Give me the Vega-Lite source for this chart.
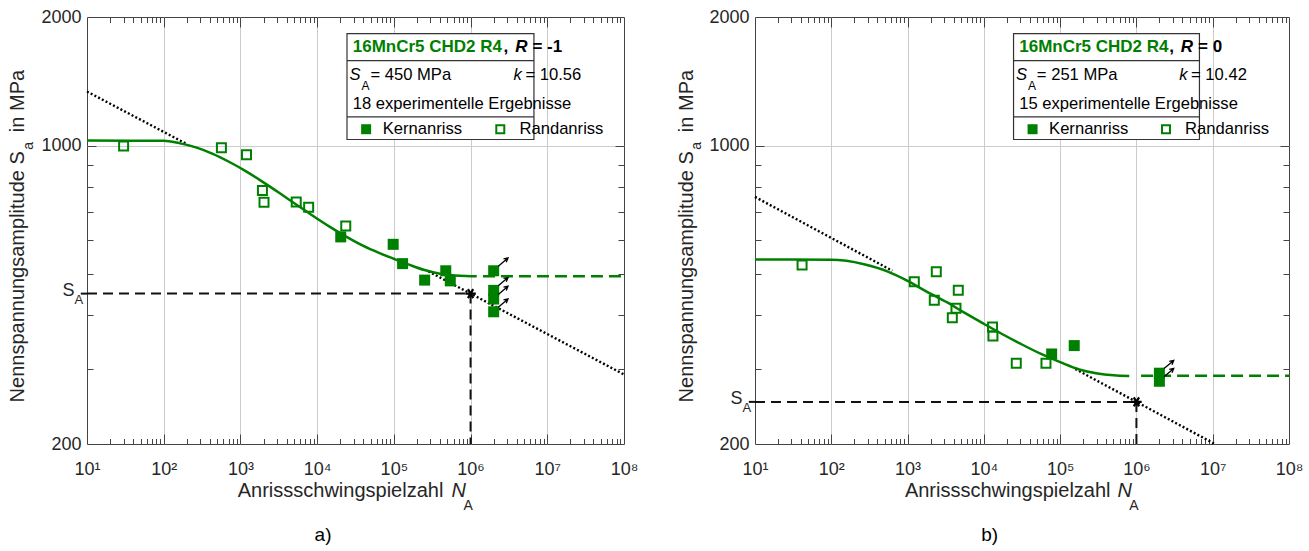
{
"$schema": "https://vega.github.io/schema/vega-lite/v6.json",
"background": "white",
"padding": {"left": 7, "top": 7, "right": 5, "bottom": 5},
"config": {"font": "Liberation Sans", "view": {"stroke": "#444", "strokeWidth": 1}, "title": {"font": "Liberation Sans"}},
"spacing": 131,
"bounds": "flush",
"datasets": {
"ptsA": [
{"N": 30, "S": 998, "Typ": "Randanriss", "Durchlaeufer": false},
{"N": 565, "S": 988, "Typ": "Randanriss", "Durchlaeufer": false},
{"N": 1200, "S": 952, "Typ": "Randanriss", "Durchlaeufer": false},
{"N": 1935, "S": 785, "Typ": "Randanriss", "Durchlaeufer": false},
{"N": 2030, "S": 737, "Typ": "Randanriss", "Durchlaeufer": false},
{"N": 5340, "S": 738, "Typ": "Randanriss", "Durchlaeufer": false},
{"N": 7750, "S": 717, "Typ": "Randanriss", "Durchlaeufer": false},
{"N": 23600, "S": 648, "Typ": "Randanriss", "Durchlaeufer": false},
{"N": 20300, "S": 611, "Typ": "Kernanriss", "Durchlaeufer": false},
{"N": 98000, "S": 587, "Typ": "Kernanriss", "Durchlaeufer": false},
{"N": 130000, "S": 529, "Typ": "Kernanriss", "Durchlaeufer": false},
{"N": 252000, "S": 484, "Typ": "Kernanriss", "Durchlaeufer": false},
{"N": 475000, "S": 509, "Typ": "Kernanriss", "Durchlaeufer": false},
{"N": 544000, "S": 482, "Typ": "Kernanriss", "Durchlaeufer": false},
{"N": 2000000, "S": 509, "Typ": "Kernanriss", "Durchlaeufer": true},
{"N": 2000000, "S": 458, "Typ": "Kernanriss", "Durchlaeufer": true},
{"N": 2000000, "S": 437, "Typ": "Kernanriss", "Durchlaeufer": true},
{"N": 2000000, "S": 408, "Typ": "Kernanriss", "Durchlaeufer": true}
],
"ptsB": [
{"N": 41.4, "S": 525, "Typ": "Randanriss", "Durchlaeufer": false},
{"N": 1225, "S": 480, "Typ": "Randanriss", "Durchlaeufer": false},
{"N": 2380, "S": 506, "Typ": "Randanriss", "Durchlaeufer": false},
{"N": 2240, "S": 434, "Typ": "Randanriss", "Durchlaeufer": false},
{"N": 4620, "S": 458, "Typ": "Randanriss", "Durchlaeufer": false},
{"N": 4310, "S": 416, "Typ": "Randanriss", "Durchlaeufer": false},
{"N": 3860, "S": 395, "Typ": "Randanriss", "Durchlaeufer": false},
{"N": 13000, "S": 376, "Typ": "Randanriss", "Durchlaeufer": false},
{"N": 13150, "S": 358, "Typ": "Randanriss", "Durchlaeufer": false},
{"N": 26600, "S": 309, "Typ": "Randanriss", "Durchlaeufer": false},
{"N": 65200, "S": 309, "Typ": "Randanriss", "Durchlaeufer": false},
{"N": 77400, "S": 325, "Typ": "Kernanriss", "Durchlaeufer": false},
{"N": 153000, "S": 340, "Typ": "Kernanriss", "Durchlaeufer": false},
{"N": 2000000, "S": 293, "Typ": "Kernanriss", "Durchlaeufer": true},
{"N": 2000000, "S": 280.5, "Typ": "Kernanriss", "Durchlaeufer": true}
],
"kurveA": [
{"N": 10, "S": 1027}, {"N": 100, "S": 1026}, {"N": 158.5, "S": 1013},
{"N": 263, "S": 990}, {"N": 436.5, "S": 956}, {"N": 719, "S": 915}, {"N": 1186, "S": 870},
{"N": 1950, "S": 822}, {"N": 3228, "S": 774}, {"N": 5321, "S": 728}, {"N": 8770, "S": 685},
{"N": 14488, "S": 646}, {"N": 23878, "S": 612}, {"N": 39445, "S": 583}, {"N": 65013, "S": 560},
{"N": 100000, "S": 543}, {"N": 158489, "S": 526}, {"N": 251189, "S": 511}, {"N": 398107, "S": 501},
{"N": 630957, "S": 496}, {"N": 1000000, "S": 494.5}, {"N": 1202264, "S": 494}
],
"kurveB": [
{"N": 10, "S": 541}, {"N": 100, "S": 540.5}, {"N": 158, "S": 537}, {"N": 269, "S": 527},
{"N": 562, "S": 506}, {"N": 1000, "S": 482}, {"N": 1780, "S": 455}, {"N": 3360, "S": 428.5},
{"N": 5620, "S": 405.5}, {"N": 10100, "S": 382}, {"N": 17800, "S": 361}, {"N": 30600, "S": 343},
{"N": 56200, "S": 325}, {"N": 102000, "S": 310.5}, {"N": 178000, "S": 299}, {"N": 309000, "S": 292.6},
{"N": 500000, "S": 289.8}, {"N": 805000, "S": 288.6}
],
"refA": [
{"art": "strich", "N": 10, "N2": 1000000, "S": 450, "S2": 450},
{"art": "strich", "N": 1000000, "N2": 1000000, "S": 450, "S2": 200},
{"art": "basquin", "N": 10, "N2": 200, "S": 1338, "S2": 1008},
{"art": "basquin", "N": 282000, "N2": 100000000, "S": 507.4, "S2": 291},
{"art": "dauer", "N": 1450000, "N2": 100000000, "S": 494, "S2": 494}
],
"refB": [
{"art": "strich", "N": 10, "N2": 1000000, "S": 251, "S2": 251},
{"art": "strich", "N": 1000000, "N2": 1000000, "S": 251, "S2": 200},
{"art": "basquin", "N": 10, "N2": 631, "S": 758, "S2": 509},
{"art": "basquin", "N": 158000, "N2": 10670000, "S": 299.6, "S2": 200},
{"art": "dauer", "N": 1150000, "N2": 100000000, "S": 289, "S2": 289}
]
},
"hconcat": [
{
"width": 537, "height": 427,
"title": {"text": "a)", "orient": "bottom", "anchor": "middle", "frame": "bounds", "fontSize": 19, "fontWeight": "normal", "color": "#000", "offset": 13},
"resolve": {"axis": {"x": "independent", "y": "independent"}},
"layer": [
{"data": {"values": [{"N": 10, "S": 200}]}, "mark": {"type": "point", "opacity": 0}, "encoding": {
"x": {"field": "N", "type": "quantitative", "scale": {"type": "log", "domain": [10, 100000000], "nice": false}, "axis": {"orient": "bottom", "values": [10, 100, 1000, 10000, 100000, 1000000, 10000000, 100000000], "labelExpr": "'10' + ['⁰','¹','²','³','⁴','⁵','⁶','⁷','⁸'][round(log(datum.value)/LN10)]", "ticks": false, "domain": false, "grid": true, "gridColor": "#cccccc", "gridWidth": 1, "gridOpacity": {"condition": {"test": "datum.value > 11 && datum.value < 90000000", "value": 1}, "value": 0}, "labelFont": "Liberation Sans", "labelFontSize": 18, "labelColor": "#262626", "labelPadding": 16, "labelOverlap": false, "labelFlush": false, "labelBound": false, "title": null}},
"y": {"field": "S", "type": "quantitative", "scale": {"type": "log", "domain": [200, 2000], "nice": false}, "axis": {"orient": "left", "values": [200, 1000, 2000], "format": "d", "ticks": false, "domain": false, "grid": true, "gridColor": "#cccccc", "gridOpacity": {"condition": {"test": "datum.value == 1000", "value": 1}, "value": 0}, "labelFont": "Liberation Sans", "labelFontSize": 18, "labelColor": "#262626", "labelPadding": 6, "labelOverlap": false, "labelFlush": false, "title": null}}}},
{"data": {"values": [{"N": 10, "S": 200}]}, "mark": {"type": "point", "opacity": 0}, "encoding": {
"x": {"field": "N", "type": "quantitative", "axis": {"orient": "bottom", "values": [100, 1000, 10000, 100000, 1000000, 10000000], "labels": false, "domain": false, "grid": false, "ticks": true, "tickColor": "#444", "tickWidth": 1, "tickSize": 10, "offset": -10, "title": null}},
"y": {"field": "S", "type": "quantitative", "axis": {"orient": "left", "values": [1000], "labels": false, "domain": false, "grid": false, "ticks": true, "tickColor": "#444", "tickWidth": 1, "tickSize": 9, "offset": -9, "title": null}}}},
{"data": {"values": [{"N": 10, "S": 200}]}, "mark": {"type": "point", "opacity": 0}, "encoding": {
"x": {"field": "N", "type": "quantitative", "axis": {"orient": "bottom", "values": [20,30,40,50,60,70,80,90,200,300,400,500,600,700,800,900,2000,3000,4000,5000,6000,7000,8000,9000,20000,30000,40000,50000,60000,70000,80000,90000,200000,300000,400000,500000,600000,700000,800000,900000,2000000,3000000,4000000,5000000,6000000,7000000,8000000,9000000,20000000,30000000,40000000,50000000,60000000,70000000,80000000,90000000], "labels": false, "domain": false, "grid": false, "ticks": true, "tickColor": "#444", "tickWidth": 1, "tickSize": 5.5, "offset": -5.5, "title": null}},
"y": {"field": "S", "type": "quantitative", "axis": {"orient": "left", "values": [300,400,500,600,700,800,900], "labels": false, "domain": false, "grid": false, "ticks": true, "tickColor": "#444", "tickWidth": 1, "tickSize": 6, "offset": -6, "title": null}}}},
{"data": {"values": [{"N": 10, "S": 200}]}, "mark": {"type": "point", "opacity": 0}, "encoding": {
"x": {"field": "N", "type": "quantitative", "axis": {"orient": "top", "values": [100, 1000, 10000, 100000, 1000000, 10000000], "labels": false, "domain": false, "grid": false, "ticks": true, "tickColor": "#444", "tickWidth": 1, "tickSize": 10, "offset": -10, "title": null}},
"y": {"field": "S", "type": "quantitative", "axis": {"orient": "right", "values": [1000], "labels": false, "domain": false, "grid": false, "ticks": true, "tickColor": "#444", "tickWidth": 1, "tickSize": 9, "offset": -9, "title": null}}}},
{"data": {"values": [{"N": 10, "S": 200}]}, "mark": {"type": "point", "opacity": 0}, "encoding": {
"x": {"field": "N", "type": "quantitative", "axis": {"orient": "top", "values": [20,30,40,50,60,70,80,90,200,300,400,500,600,700,800,900,2000,3000,4000,5000,6000,7000,8000,9000,20000,30000,40000,50000,60000,70000,80000,90000,200000,300000,400000,500000,600000,700000,800000,900000,2000000,3000000,4000000,5000000,6000000,7000000,8000000,9000000,20000000,30000000,40000000,50000000,60000000,70000000,80000000,90000000], "labels": false, "domain": false, "grid": false, "ticks": true, "tickColor": "#444", "tickWidth": 1, "tickSize": 5.5, "offset": -5.5, "title": null}},
"y": {"field": "S", "type": "quantitative", "axis": {"orient": "right", "values": [300,400,500,600,700,800,900], "labels": false, "domain": false, "grid": false, "ticks": true, "tickColor": "#444", "tickWidth": 1, "tickSize": 6, "offset": -6, "title": null}}}},
{"data": {"name": "refA"}, "transform": [{"filter": "datum.art == 'basquin'"}], "mark": {"type": "rule", "color": "#000", "strokeWidth": 2.4, "strokeDash": [2, 2.2]}, "encoding": {"x": {"field": "N", "type": "quantitative", "axis": null}, "x2": {"field": "N2"}, "y": {"field": "S", "type": "quantitative", "axis": null}, "y2": {"field": "S2"}}},
{"data": {"name": "refA"}, "transform": [{"filter": "datum.art == 'strich'"}], "mark": {"type": "rule", "color": "#111", "strokeWidth": 2, "strokeDash": [10, 6]}, "encoding": {"x": {"field": "N", "type": "quantitative", "axis": null}, "x2": {"field": "N2"}, "y": {"field": "S", "type": "quantitative", "axis": null}, "y2": {"field": "S2"}}},
{"data": {"name": "refA"}, "transform": [{"filter": "datum.art == 'dauer'"}], "mark": {"type": "rule", "color": "#008000", "strokeWidth": 2.5, "strokeDash": [12, 6]}, "encoding": {"x": {"field": "N", "type": "quantitative", "axis": null}, "x2": {"field": "N2"}, "y": {"field": "S", "type": "quantitative", "axis": null}, "y2": {"field": "S2"}}},
{"data": {"name": "kurveA"}, "mark": {"type": "line", "color": "#008000", "strokeWidth": 2.5, "interpolate": "monotone"}, "encoding": {"x": {"field": "N", "type": "quantitative", "axis": null}, "y": {"field": "S", "type": "quantitative", "axis": null}}},
{"data": {"values": [{}]}, "mark": {"type": "rule", "color": "#111", "strokeWidth": 2}, "encoding": {"x": {"datum": 8.3, "type": "quantitative", "axis": null}, "x2": {"datum": 10}, "y": {"datum": 450, "type": "quantitative", "axis": null}}},
{"data": {"values": [{}]}, "mark": {"type": "point", "shape": "M-1,0L1,0M-0.5,-0.866L0.5,0.866M-0.5,0.866L0.5,-0.866", "size": 110, "filled": false, "color": "#000", "strokeWidth": 2.2, "opacity": 1}, "encoding": {"x": {"datum": 1000000, "type": "quantitative", "axis": null}, "y": {"datum": 450, "type": "quantitative", "axis": null}}},
{"data": {"name": "ptsA"}, "transform": [{"filter": "datum.Typ == 'Randanriss'"}], "mark": {"type": "point", "shape": "square", "size": 81, "filled": false, "color": "#008000", "strokeWidth": 2, "opacity": 1}, "encoding": {"x": {"field": "N", "type": "quantitative", "axis": null}, "y": {"field": "S", "type": "quantitative", "axis": null}}},
{"data": {"name": "ptsA"}, "transform": [{"filter": "datum.Typ == 'Kernanriss'"}], "mark": {"type": "point", "shape": "square", "size": 121, "filled": true, "color": "#008000", "opacity": 1}, "encoding": {"x": {"field": "N", "type": "quantitative", "axis": null}, "y": {"field": "S", "type": "quantitative", "axis": null}}},
{"data": {"name": "ptsA"}, "transform": [{"filter": "datum.Durchlaeufer"}], "mark": {"type": "point", "shape": "M0.45,-0.45L1.4,-1.25M0.96,-1.16L1.4,-1.25L1.23,-0.83", "size": 420, "filled": false, "color": "#000", "strokeWidth": 1.3, "opacity": 1}, "encoding": {"x": {"field": "N", "type": "quantitative", "axis": null}, "y": {"field": "S", "type": "quantitative", "axis": null}}},
{"data": {"values": [{}]}, "mark": {"type": "rect", "fill": "#ffffff", "stroke": "#333", "strokeWidth": 1.2}, "encoding": {"x": {"datum": 24500, "type": "quantitative", "axis": null}, "x2": {"datum": 6700000}, "y": {"datum": 1033, "type": "quantitative", "axis": null}, "y2": {"datum": 1828}}},
{"data": {"values": [{}]}, "mark": {"type": "rule", "color": "#333", "strokeWidth": 1.2}, "encoding": {"x": {"datum": 24500, "type": "quantitative", "axis": null}, "x2": {"datum": 6700000}, "y": {"datum": 1581, "type": "quantitative", "axis": null}}},
{"data": {"values": [{}]}, "mark": {"type": "rule", "color": "#333", "strokeWidth": 1.2}, "encoding": {"x": {"datum": 24500, "type": "quantitative", "axis": null}, "x2": {"datum": 6700000}, "y": {"datum": 1167, "type": "quantitative", "axis": null}}},
{"data": {"values": [{}]}, "mark": {"type": "text", "align": "left", "baseline": "middle", "fontSize": 17, "fontWeight": "bold", "color": "#008000"}, "encoding": {"x": {"datum": 29100, "type": "quantitative", "axis": null}, "y": {"datum": 1700, "type": "quantitative", "axis": null}, "text": {"value": "16MnCr5 CHD2 R4"}}},
{"data": {"values": [{}]}, "mark": {"type": "text", "align": "left", "baseline": "middle", "fontSize": 17, "fontWeight": "bold", "color": "#000"}, "encoding": {"x": {"datum": 2690000, "type": "quantitative", "axis": null}, "y": {"datum": 1700, "type": "quantitative", "axis": null}, "text": {"value": ","}}},
{"data": {"values": [{}]}, "mark": {"type": "text", "align": "left", "baseline": "middle", "fontSize": 17, "fontWeight": "bold", "fontStyle": "italic", "color": "#000"}, "encoding": {"x": {"datum": 3810000, "type": "quantitative", "axis": null}, "y": {"datum": 1700, "type": "quantitative", "axis": null}, "text": {"value": "R"}}},
{"data": {"values": [{}]}, "mark": {"type": "text", "align": "left", "baseline": "middle", "fontSize": 17, "fontWeight": "bold", "color": "#000"}, "encoding": {"x": {"datum": 6410000, "type": "quantitative", "axis": null}, "y": {"datum": 1700, "type": "quantitative", "axis": null}, "text": {"value": "= -1"}}},
{"data": {"values": [{}]}, "mark": {"type": "text", "align": "left", "baseline": "middle", "fontSize": 16.6, "fontStyle": "italic", "color": "#000"}, "encoding": {"x": {"datum": 26400, "type": "quantitative", "axis": null}, "y": {"datum": 1461, "type": "quantitative", "axis": null}, "text": {"value": "S"}}},
{"data": {"values": [{}]}, "mark": {"type": "text", "align": "left", "baseline": "middle", "fontSize": 12, "color": "#000"}, "encoding": {"x": {"datum": 37800, "type": "quantitative", "axis": null}, "y": {"datum": 1380, "type": "quantitative", "axis": null}, "text": {"value": "A"}}},
{"data": {"values": [{}]}, "mark": {"type": "text", "align": "left", "baseline": "middle", "fontSize": 16.6, "color": "#000"}, "encoding": {"x": {"datum": 49500, "type": "quantitative", "axis": null}, "y": {"datum": 1461, "type": "quantitative", "axis": null}, "text": {"value": "= 450 MPa"}}},
{"data": {"values": [{}]}, "mark": {"type": "text", "align": "left", "baseline": "middle", "fontSize": 16.6, "fontStyle": "italic", "color": "#000"}, "encoding": {"x": {"datum": 3630000, "type": "quantitative", "axis": null}, "y": {"datum": 1461, "type": "quantitative", "axis": null}, "text": {"value": "k"}}},
{"data": {"values": [{}]}, "mark": {"type": "text", "align": "left", "baseline": "middle", "fontSize": 16.6, "color": "#000"}, "encoding": {"x": {"datum": 5200000, "type": "quantitative", "axis": null}, "y": {"datum": 1461, "type": "quantitative", "axis": null}, "text": {"value": "= 10.56"}}},
{"data": {"values": [{}]}, "mark": {"type": "text", "align": "left", "baseline": "middle", "fontSize": 16.6, "color": "#000"}, "encoding": {"x": {"datum": 29100, "type": "quantitative", "axis": null}, "y": {"datum": 1252, "type": "quantitative", "axis": null}, "text": {"value": "18 experimentelle Ergebnisse"}}},
{"data": {"values": [{}]}, "mark": {"type": "point", "shape": "square", "size": 100, "filled": true, "color": "#008000", "opacity": 1}, "encoding": {"x": {"datum": 43500, "type": "quantitative", "axis": null}, "y": {"datum": 1092, "type": "quantitative", "axis": null}}},
{"data": {"values": [{}]}, "mark": {"type": "point", "shape": "square", "size": 64, "filled": false, "color": "#008000", "strokeWidth": 2, "opacity": 1}, "encoding": {"x": {"datum": 2440000, "type": "quantitative", "axis": null}, "y": {"datum": 1092, "type": "quantitative", "axis": null}}},
{"data": {"values": [{}]}, "mark": {"type": "text", "align": "left", "baseline": "middle", "fontSize": 16.6, "color": "#000"}, "encoding": {"x": {"datum": 71600, "type": "quantitative", "axis": null}, "y": {"datum": 1092, "type": "quantitative", "axis": null}, "text": {"value": "Kernanriss"}}},
{"data": {"values": [{}]}, "mark": {"type": "text", "align": "left", "baseline": "middle", "fontSize": 16.6, "color": "#000"}, "encoding": {"x": {"datum": 4340000, "type": "quantitative", "axis": null}, "y": {"datum": 1092, "type": "quantitative", "axis": null}, "text": {"value": "Randanriss"}}},
{"data": {"values": [{}]}, "mark": {"type": "text", "align": "left", "baseline": "alphabetic", "fontSize": 20, "color": "#262626"}, "encoding": {"x": {"datum": 922, "type": "quantitative", "axis": null}, "y": {"datum": 150.4, "type": "quantitative", "axis": null}, "text": {"value": "Anrissschwingspielzahl"}}},
{"data": {"values": [{}]}, "mark": {"type": "text", "align": "left", "baseline": "alphabetic", "fontSize": 20, "fontStyle": "italic", "color": "#262626"}, "encoding": {"x": {"datum": 563600, "type": "quantitative", "axis": null}, "y": {"datum": 150.4, "type": "quantitative", "axis": null}, "text": {"value": "N"}}},
{"data": {"values": [{}]}, "mark": {"type": "text", "align": "left", "baseline": "alphabetic", "fontSize": 14, "color": "#262626"}, "encoding": {"x": {"datum": 807000, "type": "quantitative", "axis": null}, "y": {"datum": 140.3, "type": "quantitative", "axis": null}, "text": {"value": "A"}}},
{"data": {"values": [{}]}, "mark": {"type": "text", "align": "right", "baseline": "alphabetic", "angle": 270, "fontSize": 20, "color": "#262626"}, "encoding": {"x": {"datum": 1.524, "type": "quantitative", "axis": null}, "y": {"datum": 970.3, "type": "quantitative", "axis": null}, "text": {"value": "Nennspannungsamplitude S"}}},
{"data": {"values": [{}]}, "mark": {"type": "text", "align": "left", "baseline": "alphabetic", "angle": 270, "fontSize": 14, "color": "#262626"}, "encoding": {"x": {"datum": 1.968, "type": "quantitative", "axis": null}, "y": {"datum": 978, "type": "quantitative", "axis": null}, "text": {"value": "a"}}},
{"data": {"values": [{}]}, "mark": {"type": "text", "align": "left", "baseline": "alphabetic", "angle": 270, "fontSize": 20, "color": "#262626"}, "encoding": {"x": {"datum": 1.524, "type": "quantitative", "axis": null}, "y": {"datum": 1075, "type": "quantitative", "axis": null}, "text": {"value": "in MPa"}}},
{"data": {"values": [{}]}, "mark": {"type": "text", "align": "right", "baseline": "middle", "fontSize": 18, "color": "#262626"}, "encoding": {"x": {"datum": 6.85, "type": "quantitative", "axis": null}, "y": {"datum": 456, "type": "quantitative", "axis": null}, "text": {"value": "S"}}},
{"data": {"values": [{}]}, "mark": {"type": "text", "align": "left", "baseline": "middle", "fontSize": 13, "color": "#262626"}, "encoding": {"x": {"datum": 6.85, "type": "quantitative", "axis": null}, "y": {"datum": 435.6, "type": "quantitative", "axis": null}, "text": {"value": "A"}}}
]
},
{
"width": 534, "height": 427,
"title": {"text": "b)", "orient": "bottom", "anchor": "middle", "frame": "bounds", "fontSize": 19, "fontWeight": "normal", "color": "#000", "offset": 13},
"resolve": {"axis": {"x": "independent", "y": "independent"}},
"layer": [
{"data": {"values": [{"N": 10, "S": 200}]}, "mark": {"type": "point", "opacity": 0}, "encoding": {
"x": {"field": "N", "type": "quantitative", "scale": {"type": "log", "domain": [10, 100000000], "nice": false}, "axis": {"orient": "bottom", "values": [10, 100, 1000, 10000, 100000, 1000000, 10000000, 100000000], "labelExpr": "'10' + ['⁰','¹','²','³','⁴','⁵','⁶','⁷','⁸'][round(log(datum.value)/LN10)]", "ticks": false, "domain": false, "grid": true, "gridColor": "#cccccc", "gridWidth": 1, "gridOpacity": {"condition": {"test": "datum.value > 11 && datum.value < 90000000", "value": 1}, "value": 0}, "labelFont": "Liberation Sans", "labelFontSize": 18, "labelColor": "#262626", "labelPadding": 16, "labelOverlap": false, "labelFlush": false, "labelBound": false, "title": null}},
"y": {"field": "S", "type": "quantitative", "scale": {"type": "log", "domain": [200, 2000], "nice": false}, "axis": {"orient": "left", "values": [200, 1000, 2000], "format": "d", "ticks": false, "domain": false, "grid": true, "gridColor": "#cccccc", "gridOpacity": {"condition": {"test": "datum.value == 1000", "value": 1}, "value": 0}, "labelFont": "Liberation Sans", "labelFontSize": 18, "labelColor": "#262626", "labelPadding": 6, "labelOverlap": false, "labelFlush": false, "title": null}}}},
{"data": {"values": [{"N": 10, "S": 200}]}, "mark": {"type": "point", "opacity": 0}, "encoding": {
"x": {"field": "N", "type": "quantitative", "axis": {"orient": "bottom", "values": [100, 1000, 10000, 100000, 1000000, 10000000], "labels": false, "domain": false, "grid": false, "ticks": true, "tickColor": "#444", "tickWidth": 1, "tickSize": 10, "offset": -10, "title": null}},
"y": {"field": "S", "type": "quantitative", "axis": {"orient": "left", "values": [1000], "labels": false, "domain": false, "grid": false, "ticks": true, "tickColor": "#444", "tickWidth": 1, "tickSize": 9, "offset": -9, "title": null}}}},
{"data": {"values": [{"N": 10, "S": 200}]}, "mark": {"type": "point", "opacity": 0}, "encoding": {
"x": {"field": "N", "type": "quantitative", "axis": {"orient": "bottom", "values": [20,30,40,50,60,70,80,90,200,300,400,500,600,700,800,900,2000,3000,4000,5000,6000,7000,8000,9000,20000,30000,40000,50000,60000,70000,80000,90000,200000,300000,400000,500000,600000,700000,800000,900000,2000000,3000000,4000000,5000000,6000000,7000000,8000000,9000000,20000000,30000000,40000000,50000000,60000000,70000000,80000000,90000000], "labels": false, "domain": false, "grid": false, "ticks": true, "tickColor": "#444", "tickWidth": 1, "tickSize": 5.5, "offset": -5.5, "title": null}},
"y": {"field": "S", "type": "quantitative", "axis": {"orient": "left", "values": [300,400,500,600,700,800,900], "labels": false, "domain": false, "grid": false, "ticks": true, "tickColor": "#444", "tickWidth": 1, "tickSize": 6, "offset": -6, "title": null}}}},
{"data": {"values": [{"N": 10, "S": 200}]}, "mark": {"type": "point", "opacity": 0}, "encoding": {
"x": {"field": "N", "type": "quantitative", "axis": {"orient": "top", "values": [100, 1000, 10000, 100000, 1000000, 10000000], "labels": false, "domain": false, "grid": false, "ticks": true, "tickColor": "#444", "tickWidth": 1, "tickSize": 10, "offset": -10, "title": null}},
"y": {"field": "S", "type": "quantitative", "axis": {"orient": "right", "values": [1000], "labels": false, "domain": false, "grid": false, "ticks": true, "tickColor": "#444", "tickWidth": 1, "tickSize": 9, "offset": -9, "title": null}}}},
{"data": {"values": [{"N": 10, "S": 200}]}, "mark": {"type": "point", "opacity": 0}, "encoding": {
"x": {"field": "N", "type": "quantitative", "axis": {"orient": "top", "values": [20,30,40,50,60,70,80,90,200,300,400,500,600,700,800,900,2000,3000,4000,5000,6000,7000,8000,9000,20000,30000,40000,50000,60000,70000,80000,90000,200000,300000,400000,500000,600000,700000,800000,900000,2000000,3000000,4000000,5000000,6000000,7000000,8000000,9000000,20000000,30000000,40000000,50000000,60000000,70000000,80000000,90000000], "labels": false, "domain": false, "grid": false, "ticks": true, "tickColor": "#444", "tickWidth": 1, "tickSize": 5.5, "offset": -5.5, "title": null}},
"y": {"field": "S", "type": "quantitative", "axis": {"orient": "right", "values": [300,400,500,600,700,800,900], "labels": false, "domain": false, "grid": false, "ticks": true, "tickColor": "#444", "tickWidth": 1, "tickSize": 6, "offset": -6, "title": null}}}},
{"data": {"name": "refB"}, "transform": [{"filter": "datum.art == 'basquin'"}], "mark": {"type": "rule", "color": "#000", "strokeWidth": 2.4, "strokeDash": [2, 2.2]}, "encoding": {"x": {"field": "N", "type": "quantitative", "axis": null}, "x2": {"field": "N2"}, "y": {"field": "S", "type": "quantitative", "axis": null}, "y2": {"field": "S2"}}},
{"data": {"name": "refB"}, "transform": [{"filter": "datum.art == 'strich'"}], "mark": {"type": "rule", "color": "#111", "strokeWidth": 2, "strokeDash": [10, 6]}, "encoding": {"x": {"field": "N", "type": "quantitative", "axis": null}, "x2": {"field": "N2"}, "y": {"field": "S", "type": "quantitative", "axis": null}, "y2": {"field": "S2"}}},
{"data": {"name": "refB"}, "transform": [{"filter": "datum.art == 'dauer'"}], "mark": {"type": "rule", "color": "#008000", "strokeWidth": 2.5, "strokeDash": [12, 6]}, "encoding": {"x": {"field": "N", "type": "quantitative", "axis": null}, "x2": {"field": "N2"}, "y": {"field": "S", "type": "quantitative", "axis": null}, "y2": {"field": "S2"}}},
{"data": {"name": "kurveB"}, "mark": {"type": "line", "color": "#008000", "strokeWidth": 2.5, "interpolate": "monotone"}, "encoding": {"x": {"field": "N", "type": "quantitative", "axis": null}, "y": {"field": "S", "type": "quantitative", "axis": null}}},
{"data": {"values": [{}]}, "mark": {"type": "rule", "color": "#111", "strokeWidth": 2}, "encoding": {"x": {"datum": 8.3, "type": "quantitative", "axis": null}, "x2": {"datum": 10}, "y": {"datum": 251, "type": "quantitative", "axis": null}}},
{"data": {"values": [{}]}, "mark": {"type": "point", "shape": "M-1,0L1,0M-0.5,-0.866L0.5,0.866M-0.5,0.866L0.5,-0.866", "size": 110, "filled": false, "color": "#000", "strokeWidth": 2.2, "opacity": 1}, "encoding": {"x": {"datum": 1000000, "type": "quantitative", "axis": null}, "y": {"datum": 251, "type": "quantitative", "axis": null}}},
{"data": {"name": "ptsB"}, "transform": [{"filter": "datum.Typ == 'Randanriss'"}], "mark": {"type": "point", "shape": "square", "size": 81, "filled": false, "color": "#008000", "strokeWidth": 2, "opacity": 1}, "encoding": {"x": {"field": "N", "type": "quantitative", "axis": null}, "y": {"field": "S", "type": "quantitative", "axis": null}}},
{"data": {"name": "ptsB"}, "transform": [{"filter": "datum.Typ == 'Kernanriss'"}], "mark": {"type": "point", "shape": "square", "size": 121, "filled": true, "color": "#008000", "opacity": 1}, "encoding": {"x": {"field": "N", "type": "quantitative", "axis": null}, "y": {"field": "S", "type": "quantitative", "axis": null}}},
{"data": {"name": "ptsB"}, "transform": [{"filter": "datum.Durchlaeufer"}], "mark": {"type": "point", "shape": "M0.45,-0.45L1.4,-1.25M0.96,-1.16L1.4,-1.25L1.23,-0.83", "size": 420, "filled": false, "color": "#000", "strokeWidth": 1.3, "opacity": 1}, "encoding": {"x": {"field": "N", "type": "quantitative", "axis": null}, "y": {"field": "S", "type": "quantitative", "axis": null}}},
{"data": {"values": [{}]}, "mark": {"type": "rect", "fill": "#ffffff", "stroke": "#333", "strokeWidth": 1.2}, "encoding": {"x": {"datum": 24500, "type": "quantitative", "axis": null}, "x2": {"datum": 6700000}, "y": {"datum": 1033, "type": "quantitative", "axis": null}, "y2": {"datum": 1828}}},
{"data": {"values": [{}]}, "mark": {"type": "rule", "color": "#333", "strokeWidth": 1.2}, "encoding": {"x": {"datum": 24500, "type": "quantitative", "axis": null}, "x2": {"datum": 6700000}, "y": {"datum": 1581, "type": "quantitative", "axis": null}}},
{"data": {"values": [{}]}, "mark": {"type": "rule", "color": "#333", "strokeWidth": 1.2}, "encoding": {"x": {"datum": 24500, "type": "quantitative", "axis": null}, "x2": {"datum": 6700000}, "y": {"datum": 1167, "type": "quantitative", "axis": null}}},
{"data": {"values": [{}]}, "mark": {"type": "text", "align": "left", "baseline": "middle", "fontSize": 17, "fontWeight": "bold", "color": "#008000"}, "encoding": {"x": {"datum": 29100, "type": "quantitative", "axis": null}, "y": {"datum": 1700, "type": "quantitative", "axis": null}, "text": {"value": "16MnCr5 CHD2 R4"}}},
{"data": {"values": [{}]}, "mark": {"type": "text", "align": "left", "baseline": "middle", "fontSize": 17, "fontWeight": "bold", "color": "#000"}, "encoding": {"x": {"datum": 2690000, "type": "quantitative", "axis": null}, "y": {"datum": 1700, "type": "quantitative", "axis": null}, "text": {"value": ","}}},
{"data": {"values": [{}]}, "mark": {"type": "text", "align": "left", "baseline": "middle", "fontSize": 17, "fontWeight": "bold", "fontStyle": "italic", "color": "#000"}, "encoding": {"x": {"datum": 3810000, "type": "quantitative", "axis": null}, "y": {"datum": 1700, "type": "quantitative", "axis": null}, "text": {"value": "R"}}},
{"data": {"values": [{}]}, "mark": {"type": "text", "align": "left", "baseline": "middle", "fontSize": 17, "fontWeight": "bold", "color": "#000"}, "encoding": {"x": {"datum": 6410000, "type": "quantitative", "axis": null}, "y": {"datum": 1700, "type": "quantitative", "axis": null}, "text": {"value": "= 0"}}},
{"data": {"values": [{}]}, "mark": {"type": "text", "align": "left", "baseline": "middle", "fontSize": 16.6, "fontStyle": "italic", "color": "#000"}, "encoding": {"x": {"datum": 26400, "type": "quantitative", "axis": null}, "y": {"datum": 1461, "type": "quantitative", "axis": null}, "text": {"value": "S"}}},
{"data": {"values": [{}]}, "mark": {"type": "text", "align": "left", "baseline": "middle", "fontSize": 12, "color": "#000"}, "encoding": {"x": {"datum": 37800, "type": "quantitative", "axis": null}, "y": {"datum": 1380, "type": "quantitative", "axis": null}, "text": {"value": "A"}}},
{"data": {"values": [{}]}, "mark": {"type": "text", "align": "left", "baseline": "middle", "fontSize": 16.6, "color": "#000"}, "encoding": {"x": {"datum": 49500, "type": "quantitative", "axis": null}, "y": {"datum": 1461, "type": "quantitative", "axis": null}, "text": {"value": "= 251 MPa"}}},
{"data": {"values": [{}]}, "mark": {"type": "text", "align": "left", "baseline": "middle", "fontSize": 16.6, "fontStyle": "italic", "color": "#000"}, "encoding": {"x": {"datum": 3630000, "type": "quantitative", "axis": null}, "y": {"datum": 1461, "type": "quantitative", "axis": null}, "text": {"value": "k"}}},
{"data": {"values": [{}]}, "mark": {"type": "text", "align": "left", "baseline": "middle", "fontSize": 16.6, "color": "#000"}, "encoding": {"x": {"datum": 5200000, "type": "quantitative", "axis": null}, "y": {"datum": 1461, "type": "quantitative", "axis": null}, "text": {"value": "= 10.42"}}},
{"data": {"values": [{}]}, "mark": {"type": "text", "align": "left", "baseline": "middle", "fontSize": 16.6, "color": "#000"}, "encoding": {"x": {"datum": 29100, "type": "quantitative", "axis": null}, "y": {"datum": 1252, "type": "quantitative", "axis": null}, "text": {"value": "15 experimentelle Ergebnisse"}}},
{"data": {"values": [{}]}, "mark": {"type": "point", "shape": "square", "size": 100, "filled": true, "color": "#008000", "opacity": 1}, "encoding": {"x": {"datum": 43500, "type": "quantitative", "axis": null}, "y": {"datum": 1092, "type": "quantitative", "axis": null}}},
{"data": {"values": [{}]}, "mark": {"type": "point", "shape": "square", "size": 64, "filled": false, "color": "#008000", "strokeWidth": 2, "opacity": 1}, "encoding": {"x": {"datum": 2440000, "type": "quantitative", "axis": null}, "y": {"datum": 1092, "type": "quantitative", "axis": null}}},
{"data": {"values": [{}]}, "mark": {"type": "text", "align": "left", "baseline": "middle", "fontSize": 16.6, "color": "#000"}, "encoding": {"x": {"datum": 71600, "type": "quantitative", "axis": null}, "y": {"datum": 1092, "type": "quantitative", "axis": null}, "text": {"value": "Kernanriss"}}},
{"data": {"values": [{}]}, "mark": {"type": "text", "align": "left", "baseline": "middle", "fontSize": 16.6, "color": "#000"}, "encoding": {"x": {"datum": 4340000, "type": "quantitative", "axis": null}, "y": {"datum": 1092, "type": "quantitative", "axis": null}, "text": {"value": "Randanriss"}}},
{"data": {"values": [{}]}, "mark": {"type": "text", "align": "left", "baseline": "alphabetic", "fontSize": 20, "color": "#262626"}, "encoding": {"x": {"datum": 922, "type": "quantitative", "axis": null}, "y": {"datum": 150.4, "type": "quantitative", "axis": null}, "text": {"value": "Anrissschwingspielzahl"}}},
{"data": {"values": [{}]}, "mark": {"type": "text", "align": "left", "baseline": "alphabetic", "fontSize": 20, "fontStyle": "italic", "color": "#262626"}, "encoding": {"x": {"datum": 563600, "type": "quantitative", "axis": null}, "y": {"datum": 150.4, "type": "quantitative", "axis": null}, "text": {"value": "N"}}},
{"data": {"values": [{}]}, "mark": {"type": "text", "align": "left", "baseline": "alphabetic", "fontSize": 14, "color": "#262626"}, "encoding": {"x": {"datum": 807000, "type": "quantitative", "axis": null}, "y": {"datum": 140.3, "type": "quantitative", "axis": null}, "text": {"value": "A"}}},
{"data": {"values": [{}]}, "mark": {"type": "text", "align": "right", "baseline": "alphabetic", "angle": 270, "fontSize": 20, "color": "#262626"}, "encoding": {"x": {"datum": 1.524, "type": "quantitative", "axis": null}, "y": {"datum": 970.3, "type": "quantitative", "axis": null}, "text": {"value": "Nennspannungsamplitude S"}}},
{"data": {"values": [{}]}, "mark": {"type": "text", "align": "left", "baseline": "alphabetic", "angle": 270, "fontSize": 14, "color": "#262626"}, "encoding": {"x": {"datum": 1.968, "type": "quantitative", "axis": null}, "y": {"datum": 978, "type": "quantitative", "axis": null}, "text": {"value": "a"}}},
{"data": {"values": [{}]}, "mark": {"type": "text", "align": "left", "baseline": "alphabetic", "angle": 270, "fontSize": 20, "color": "#262626"}, "encoding": {"x": {"datum": 1.524, "type": "quantitative", "axis": null}, "y": {"datum": 1075, "type": "quantitative", "axis": null}, "text": {"value": "in MPa"}}},
{"data": {"values": [{}]}, "mark": {"type": "text", "align": "right", "baseline": "middle", "fontSize": 18, "color": "#262626"}, "encoding": {"x": {"datum": 6.85, "type": "quantitative", "axis": null}, "y": {"datum": 254.4, "type": "quantitative", "axis": null}, "text": {"value": "S"}}},
{"data": {"values": [{}]}, "mark": {"type": "text", "align": "left", "baseline": "middle", "fontSize": 13, "color": "#262626"}, "encoding": {"x": {"datum": 6.85, "type": "quantitative", "axis": null}, "y": {"datum": 243, "type": "quantitative", "axis": null}, "text": {"value": "A"}}}
]
}
]
}
